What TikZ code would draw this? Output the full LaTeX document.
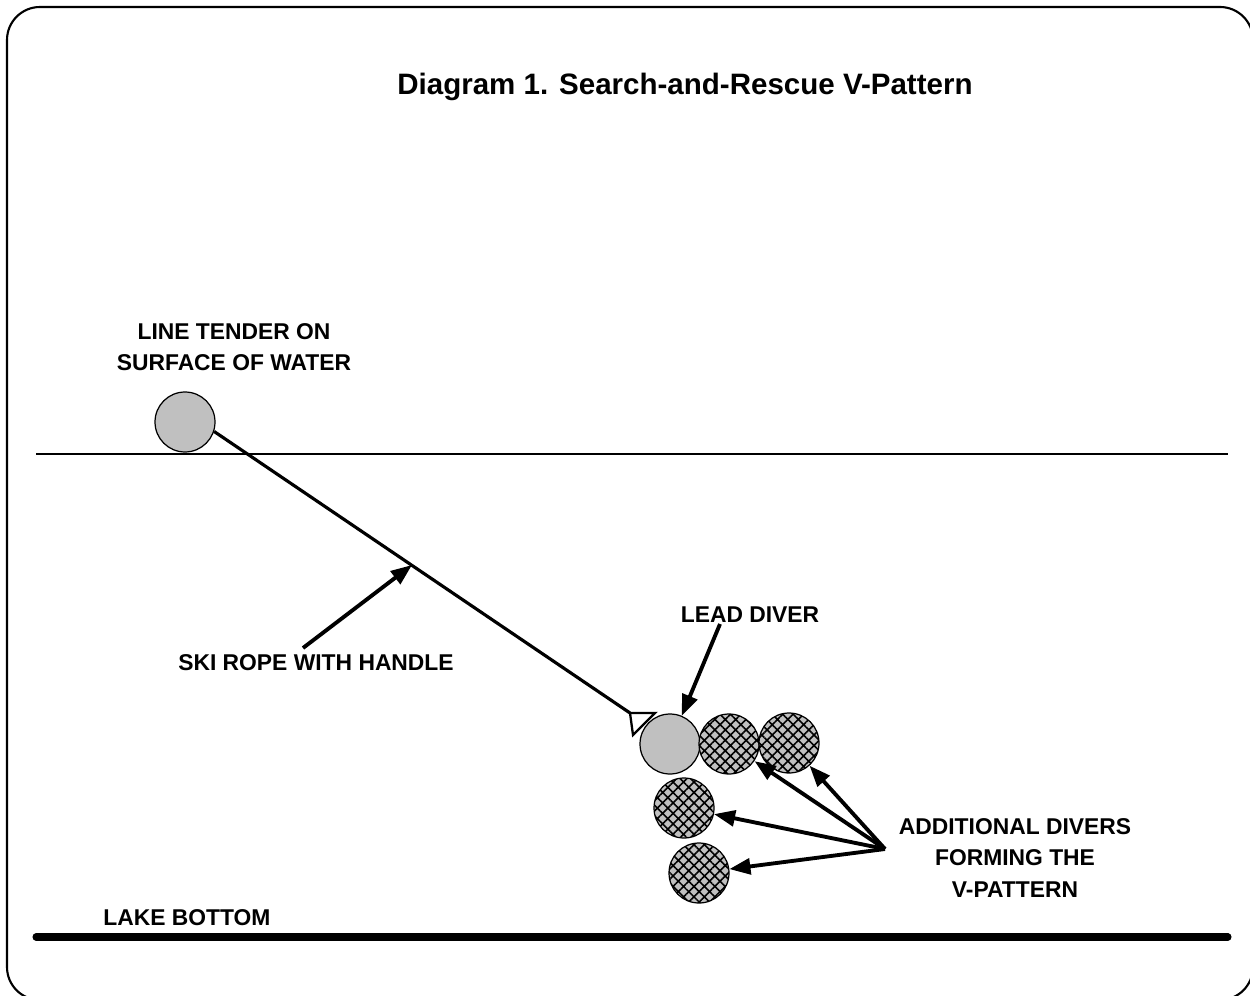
\documentclass[tikz,border=0pt]{standalone}
\usepackage{fontspec}
\setmainfont{Liberation Sans}
\usetikzlibrary{arrows.meta,patterns.meta}
\definecolor{diverfill}{RGB}{192,192,192}
\tikzset{
  diver/.style={circle,draw,line width=0.7pt,fill=diverfill,minimum size=1.2cm,inner sep=0pt},
  helper/.style={diver,preaction={fill=diverfill},pattern={Hatch[angle=45,distance=4.2pt,line width=0.9pt]}},
  lbl/.style={font=\bfseries\fontsize{13pt}{17.8pt}\selectfont,align=center,inner sep=0pt},
  pointer/.style={line width=2.2pt,-{Triangle[length=12pt,width=9pt]}},
}
\begin{document}
\begin{tikzpicture}[x=0.02cm,y=-0.02cm]
            \useasboundingbox (0,0) rectangle (1250,996);
            \draw[line width=1.2pt,rounded corners=0.66cm] (7,7) rectangle (1253,1000);
            \node[font=\bfseries\fontsize{16.8pt}{20pt}\selectfont] (title) at (685,87) {Diagram 1. Search-and-Rescue V-Pattern};
            % water surface and lake bottom
            \draw[line width=0.6pt] (36,454) -- (1228,454);
            \draw[line width=4pt,line cap=round] (36,937) -- (1228,937);
            \node[lbl,anchor=west] (bottom) at (103,918) {LAKE BOTTOM};
            % line tender and rope
            \node[diver] (tender) at (185,422) {};
            \node[lbl] (tenderlbl) at (234,347) {LINE TENDER ON\\SURFACE OF WATER};
            \coordinate (handle) at (630,713);
            \draw[line width=1.8pt] (tender.-18) -- (handle);
            \draw[line width=1.3pt,fill=white] (handle) -- (655,713) -- (633,735) -- cycle;
            \coordinate (ropept) at (412,565);
            \node[lbl] (ropelbl) at (316,663) {SKI ROPE WITH HANDLE};
            \coordinate (ropefoot) at (303,648);
            \draw[pointer] (ropefoot) -- (ropept);
            % divers
            \node[diver] (lead) at (670,744) {};
            \node[helper] (d1) at (729,744) {};
            \node[helper] (d2) at (789,743) {};
            \node[helper] (d3) at (684,808) {};
            \node[helper] (d4) at (699,873) {};
            \node[lbl] (leadlbl) at (750,615) {LEAD DIVER};
            \coordinate (leadfoot) at (720,624);
            \draw[pointer] (leadfoot) -- (lead);
            \node[lbl] (extralbl) at (1015,858) {ADDITIONAL DIVERS\\FORMING THE\\V-PATTERN};
            \coordinate (fan) at (885,849);
            \foreach \d in {d1,d2,d3,d4}
              \draw[pointer] (fan) -- (\d);
        \end{tikzpicture}
\end{document}
